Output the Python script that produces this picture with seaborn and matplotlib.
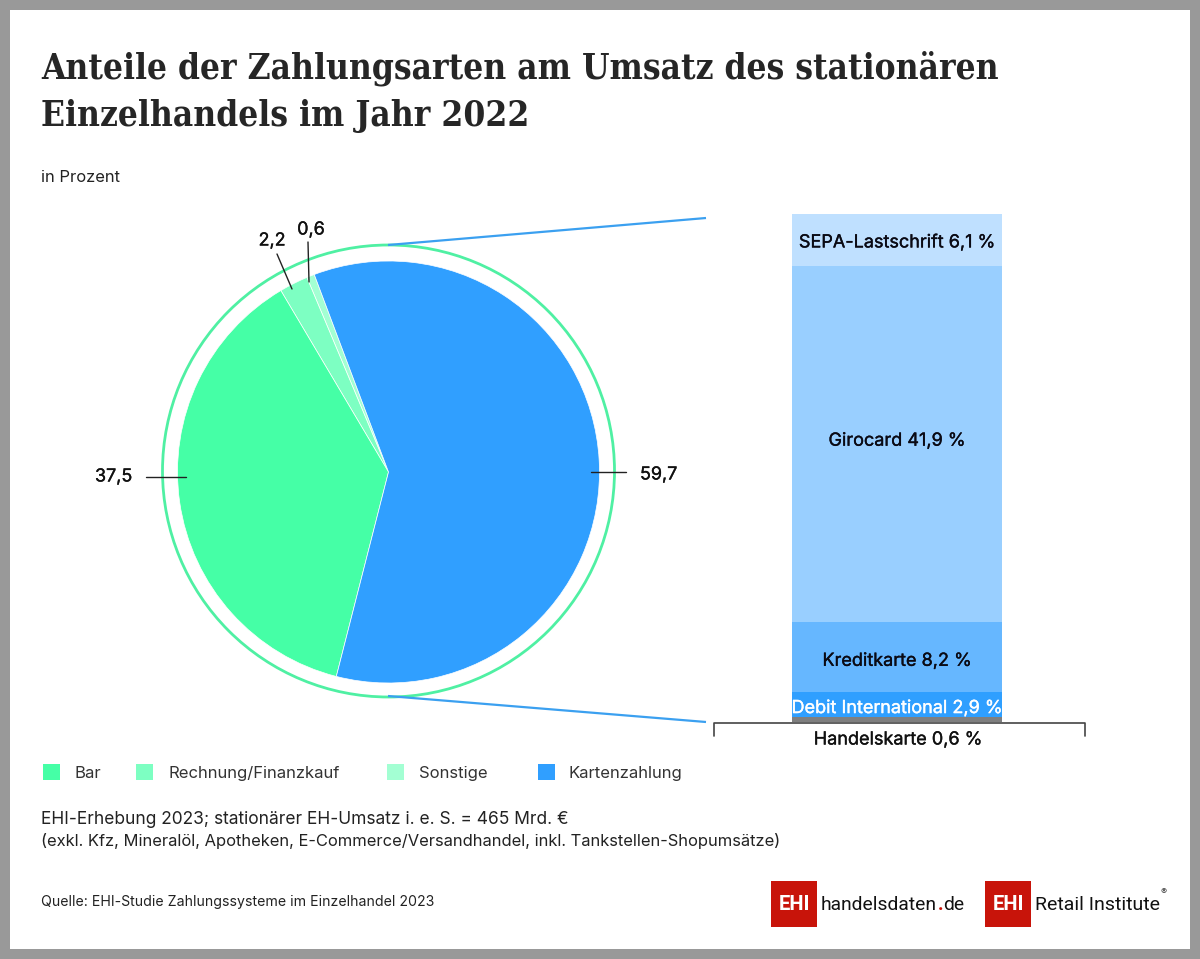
import matplotlib
matplotlib.use("Agg")
import matplotlib.pyplot as plt
import matplotlib.patheffects as pe
from matplotlib.patches import Circle, Rectangle
import seaborn as sns
import numpy as np
import pandas as pd

sns.set_theme(style="white")
BODY = "Inter"
plt.rcParams["font.family"] = [BODY, "DejaVu Sans"]

title_lines = ["Anteile der Zahlungsarten am Umsatz des stationären", "Einzelhandels im Jahr 2022"]
subtitle = "in Prozent"
pie_labels = ["Sonstige", "Rechnung/Finanzkauf", "Bar", "Kartenzahlung"]
pie_values = [0.6, 2.2, 37.5, 59.7]
pie_colors = ["#A3FFD3", "#7DFFC2", "#45FFA6", "#309FFF"]
pie_texts = ["0,6", "2,2", "37,5", "59,7"]
legend_order = ["Bar", "Rechnung/Finanzkauf", "Sonstige", "Kartenzahlung"]
stack_labels = ["Handelskarte", "Debit International", "Kreditkarte", "Girocard", "SEPA-Lastschrift"]
stack_values = [0.6, 2.9, 8.2, 41.9, 6.1]
stack_colors = ["#7F7F7F", "#2F9FFF", "#66B7FF", "#99CFFF", "#BFE0FF"]
note_lines = ["EHI-Erhebung 2023; stationärer EH-Umsatz i. e. S. = 465 Mrd. €",
              "(exkl. Kfz, Mineralöl, Apotheken, E-Commerce/Versandhandel, inkl. Tankstellen-Shopumsätze)"]
source = "Quelle: EHI-Studie Zahlungssysteme im Einzelhandel 2023"

W, H = 1200, 959
fig = plt.figure(figsize=(W / 100, H / 100), dpi=100, facecolor="white")

def axes_px(x0, y0, x1, y1, **kw):
    return fig.add_axes([x0 / W, 1 - y1 / H, (x1 - x0) / W, (y1 - y0) / H], **kw)

def medium(color):
    return [pe.withStroke(linewidth=0.25, foreground=color)]

# pie (axes units are pixels around the centre)
cx, cy, half = 388.5, 472, 250
pax = axes_px(cx - half, cy - half, cx + half, cy + half)
pax.pie(pie_values, colors=pie_colors, radius=211, startangle=110.6, counterclock=True,
        wedgeprops=dict(edgecolor="white", linewidth=0.5), frame=False)
pax.set_xlim(-half, half)
pax.set_ylim(-half, half)
pax.axis("off")
pax.add_patch(Circle((0, 1), 226, fill=False, edgecolor="#4FF0A3", linewidth=2.0))

# stacked column
bax = axes_px(792, 214, 1002, 722)
bottom = 0.0
label_shift = {"Debit International": -0.47, "Kreditkarte": -0.47, "Girocard": 0.35, "SEPA-Lastschrift": -0.35}
for lab, val, col in zip(stack_labels, stack_values, stack_colors):
    df = pd.DataFrame({"g": ["Karte"], "v": [val]})
    sns.barplot(data=df, x="g", y="v", color=col, saturation=1, width=1.0, bottom=bottom,
                linewidth=0, ax=bax)
    if lab != "Handelskarte":
        txtcol = "white" if lab == "Debit International" else "#0A0A14"
        bax.text(0, bottom + val / 2 + label_shift[lab],
                 f"{lab} {str(val).replace('.', ',')} %",
                 ha="center", va="center", fontsize=13, color=txtcol, clip_on=False,
                 path_effects=medium(txtcol))
    bottom += val
bax.set_xlim(-0.5, 0.5)
bax.set_ylim(0, sum(stack_values))
bax.axis("off")

# overlay in pixel coordinates for frame, annotations and captions
ov = fig.add_axes([0, 0, 1, 1], facecolor="none")
ov.set_xlim(0, W)
ov.set_ylim(H, 0)
ov.axis("off")

GREY = "#999999"
for r in [(0, 0, W, 10), (0, H - 10, W, 10), (0, 0, 10, H), (W - 10, 0, 10, H)]:
    ov.add_patch(Rectangle(r[:2], r[2], r[3], color=GREY, lw=0))

for y, line in zip([68, 116], title_lines):
    ov.text(41, y, line, family="DejaVu Serif", stretch="condensed", weight="bold", fontsize=25.2,
            color="#262626", va="center", ha="left")
ov.text(41, 182, subtitle, fontsize=11.9, color="#222222", va="baseline")

# connector lines
ov.plot([388, 706], [245, 218], color="#3BA0F0", lw=1.6, solid_capstyle="butt")
ov.plot([388, 706], [696, 722], color="#3BA0F0", lw=1.6, solid_capstyle="butt")

# pie leaders and values
lead = {"0,6": ((308, 242), (309, 282)), "2,2": ((277, 254), (292, 289)),
        "37,5": ((146, 477), (186, 477)), "59,7": ((591, 472), (626, 472))}
for (a, b) in lead.values():
    ov.plot([a[0], b[0]], [a[1], b[1]], color="#222222", lw=1.0)
VALFS = 12.9
ink = "#111111"
ov.text(311, 230, pie_texts[0], fontsize=VALFS, ha="center", va="center", color=ink, path_effects=medium(ink))
ov.text(272, 241, pie_texts[1], fontsize=VALFS, ha="center", va="center", color=ink, path_effects=medium(ink))
ov.text(132, 477, pie_texts[2], fontsize=VALFS, ha="right", va="center", color=ink, path_effects=medium(ink))
ov.text(640, 475, pie_texts[3], fontsize=VALFS, ha="left", va="center", color=ink, path_effects=medium(ink))

# Handelskarte bracket
ov.plot([714, 714, 1085, 1085], [736, 723, 723, 736], color="#444444", lw=1.2)
ov.text(898, 740, f"{stack_labels[0]} {str(stack_values[0]).replace('.', ',')} %", fontsize=13,
        ha="center", va="center", color=ink, path_effects=medium(ink))

# legend
swatch_x = [43, 136, 387, 538]
label_x = [74, 168, 419, 569]
for name, sx, lx in zip(legend_order, swatch_x, label_x):
    col = pie_colors[pie_labels.index(name)]
    ov.add_patch(Rectangle((sx, 764), 17, 16, color=col, lw=0))
    ov.text(lx, 778, name, fontsize=12, va="baseline", color="#333333")

# notes
ov.text(41, 824, note_lines[0], fontsize=12.5, va="baseline", color="#222222")
ov.text(41, 846, note_lines[1], fontsize=11.9, va="baseline", color="#222222")
ov.text(41, 906, source, fontsize=10.18, va="baseline", color="#222222")

# logos
RED = "#C8140A"
for x0 in [771, 985]:
    ov.add_patch(Rectangle((x0, 881), 46, 46, color=RED, lw=0))
    ov.text(x0 + 23, 904, "EHI", fontsize=14.5, family="Roboto", weight="bold", color="white", ha="center", va="center")
ov.text(821, 910, "handelsdaten", fontsize=13.9, color="#111111", ha="left", va="baseline", family="Roboto")
ov.text(937.5, 910, ".", fontsize=13.9, color=RED, ha="left", va="baseline", family="Roboto", weight="bold")
ov.text(943, 910, "de", fontsize=13.9, color="#111111", ha="left", va="baseline", family="Roboto")
ov.text(1035, 910, "Retail Institute", fontsize=14.0, color="#111111", ha="left", va="baseline", family="Roboto")
ov.text(1164, 892, "®", fontsize=6.5, color="#333333", ha="center", va="center")

fig.savefig("out.png", dpi=100, facecolor="white")
